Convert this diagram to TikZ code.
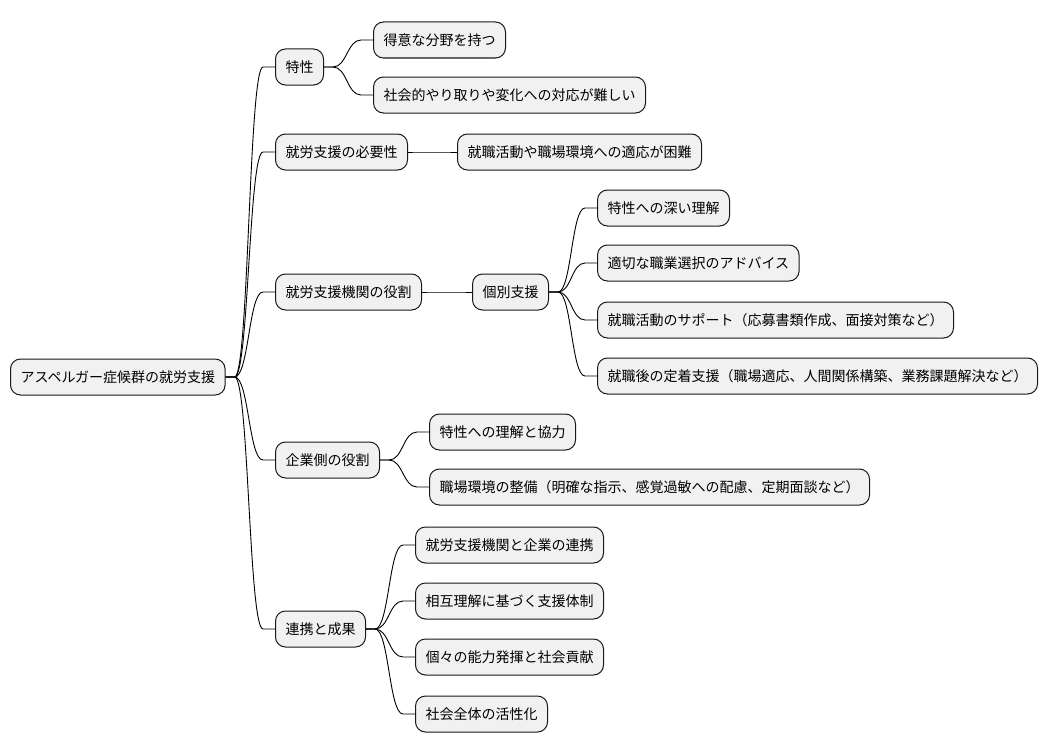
\documentclass[tikz,border=0pt]{standalone}
\usepackage{fontspec}
\setmainfont{Noto Sans CJK JP}
\usetikzlibrary{calc}
\definecolor{boxfill}{HTML}{F1F1F1}
\definecolor{boxline}{HTML}{181818}
\tikzset{
  mmbox/.style={draw=boxline, fill=boxfill, line width=1pt, rounded corners=10pt,
    minimum height=36pt, inner xsep=10pt, inner ysep=0pt, anchor=west,
    font=\fontsize{14pt}{16pt}\selectfont},
  conn/.style={draw=black, line width=0.9pt}
}
\newcommand\mmlink[2]{\draw[conn] let \p1=($(#1.east)+(9,0)$), \p2=($(#2.west)+(-12,0)$) in
  (#1.east) -- (\p1) .. controls +({(\x2-\x1)/2},0) and +({(\x1-\x2)/2},0) .. (\p2) -- (#2.west);}
\begin{document}
\begin{tikzpicture}[x=1pt,y=1pt]
\useasboundingbox (0,0) rectangle (1048,-752);
% root
\node[mmbox] (root) at (10,-377) {アスペルガー症候群の就労支援};
% level 1
\node[mmbox] (a) at (275,-67) {特性};
\node[mmbox] (b) at (275,-152) {就労支援の必要性};
\node[mmbox] (c) at (275,-292) {就労支援機関の役割};
\node[mmbox] (d) at (275,-460) {企業側の役割};
\node[mmbox] (e) at (275,-629) {連携と成果};
% level 2
\coordinate (ax) at ($(a.east)+(49,0)$);
\node[mmbox] (a1) at (ax |- 0,-40) {得意な分野を持つ};
\node[mmbox] (a2) at (ax |- 0,-95) {社会的やり取りや変化への対応が難しい};
\coordinate (bx) at ($(b.east)+(49,0)$);
\node[mmbox] (b1) at (bx |- 0,-152) {就職活動や職場環境への適応が困難};
\coordinate (cx) at ($(c.east)+(50,0)$);
\node[mmbox] (c1) at (cx |- 0,-292) {個別支援};
\coordinate (dx) at ($(d.east)+(49,0)$);
\node[mmbox] (d1) at (dx |- 0,-432) {特性への理解と協力};
\node[mmbox] (d2) at (dx |- 0,-487) {職場環境の整備（明確な指示、感覚過敏への配慮、定期面談など）};
\coordinate (ex) at ($(e.east)+(49,0)$);
\node[mmbox] (e1) at (ex |- 0,-545) {就労支援機関と企業の連携};
\node[mmbox] (e2) at (ex |- 0,-601) {相互理解に基づく支援体制};
\node[mmbox] (e3) at (ex |- 0,-657) {個々の能力発揮と社会貢献};
\node[mmbox] (e4) at (ex |- 0,-714) {社会全体の活性化};
% level 3
\coordinate (fx) at ($(c1.east)+(48,0)$);
\node[mmbox] (f1) at (fx |- 0,-208) {特性への深い理解};
\node[mmbox] (f2) at (fx |- 0,-263) {適切な職業選択のアドバイス};
\node[mmbox] (f3) at (fx |- 0,-320) {就職活動のサポート（応募書類作成、面接対策など）};
\node[mmbox] (f4) at (fx |- 0,-376) {就職後の定着支援（職場適応、人間関係構築、業務課題解決など）};
% connectors
\mmlink{root}{a}\mmlink{root}{b}\mmlink{root}{c}\mmlink{root}{d}\mmlink{root}{e}
\mmlink{a}{a1}\mmlink{a}{a2}
\mmlink{b}{b1}
\mmlink{c}{c1}
\mmlink{c1}{f1}\mmlink{c1}{f2}\mmlink{c1}{f3}\mmlink{c1}{f4}
\mmlink{d}{d1}\mmlink{d}{d2}
\mmlink{e}{e1}\mmlink{e}{e2}\mmlink{e}{e3}\mmlink{e}{e4}
\end{tikzpicture}
\end{document}
